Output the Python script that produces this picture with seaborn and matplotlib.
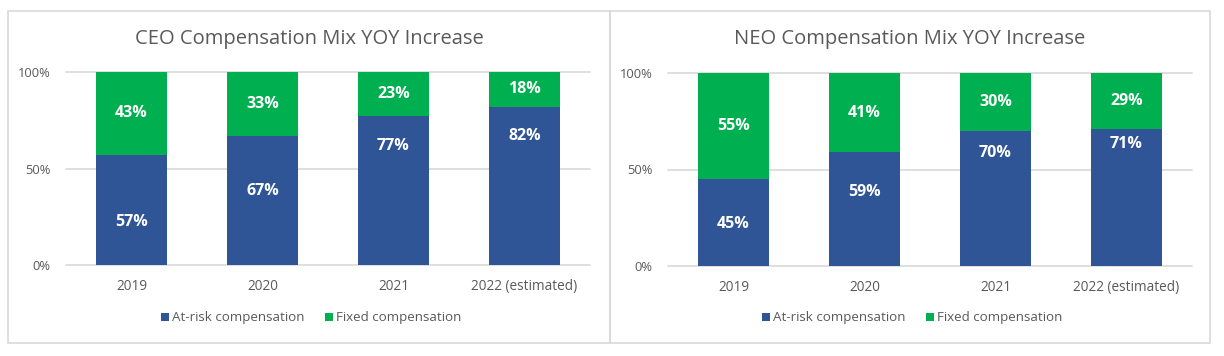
import matplotlib
matplotlib.use("Agg")
import matplotlib.pyplot as plt
from matplotlib.patches import Rectangle, Patch
import seaborn as sns
import pandas as pd

# ---- data ----
categories = ["2019", "2020", "2021", "2022 (estimated)"]
ceo_at_risk = [57, 67, 77, 82]
ceo_fixed = [43, 33, 23, 18]
neo_at_risk = [45, 59, 70, 71]
neo_fixed = [55, 41, 30, 29]
titles = ["CEO Compensation Mix YOY Increase", "NEO Compensation Mix YOY Increase"]
series_names = ["At-risk compensation", "Fixed compensation"]
y_ticks = [0, 50, 100]
y_tick_labels = ["0%", "50%", "100%"]

# label placement (as in the reference, at-risk labels are placed manually)
ceo_at_risk_label_y = [22.5, 38.4, 61.7, 66.9]
neo_at_risk_label_y = [21.8, 38.4, 58.3, 63.3]

# ---- style ----
BLUE = "#2F5597"
GREEN = "#00B050"
GRID = "#D9D9D9"
TEXT = "#595959"
FONT = ["Open Sans", "DejaVu Sans"]

sns.set_theme(style="white")
plt.rcParams["font.family"] = FONT

W, H = 1224, 356
fig = plt.figure(figsize=(W / 100, H / 100), dpi=100)
fig.patch.set_facecolor("white")

def fx(px):
    return px / W

def fy(py):
    return 1 - py / H

# panel borders
for x0, x1 in [(8, 610), (610, 1210)]:
    fig.patches.append(Rectangle((fx(x0), fy(343)), fx(x1 - x0), (343 - 11) / H,
                                 transform=fig.transFigure, fill=False,
                                 edgecolor=GRID, linewidth=1.2, zorder=0))

panels = [
    dict(left=66, top=72, bottom=265, at=ceo_at_risk, fx_=ceo_fixed, lab=ceo_at_risk_label_y,
         title=titles[0], cx=309),
    dict(left=668, top=73, bottom=266, at=neo_at_risk, fx_=neo_fixed, lab=neo_at_risk_label_y,
         title=titles[1], cx=910),
]

for p in panels:
    ax = fig.add_axes([fx(p["left"]), fy(p["bottom"]), fx(524), (p["bottom"] - p["top"]) / H])
    df = pd.DataFrame({"cat": categories, "at": p["at"], "fixed": p["fx_"]})
    df["total"] = df["at"] + df["fixed"]
    sns.barplot(data=df, x="cat", y="total", color=GREEN, saturation=1, width=0.535,
                ax=ax, zorder=3, linewidth=0, edgecolor="none")
    sns.barplot(data=df, x="cat", y="at", color=BLUE, saturation=1, width=0.535,
                ax=ax, zorder=3, linewidth=0, edgecolor="none")
    ax.set_xlim(-0.5, 3.5)
    ax.set_ylim(0, 100)
    ax.set_yticks(y_ticks)
    ax.set_yticklabels(y_tick_labels)
    ax.set_xlabel("")
    ax.set_ylabel("")
    for s in ax.spines.values():
        s.set_visible(False)
    for yv in y_ticks:
        ax.axhline(yv, color=GRID, linewidth=1.2, zorder=1, clip_on=False)
    ax.tick_params(axis="both", length=0, colors=TEXT)
    ax.tick_params(axis="y", pad=11, labelsize=9.3)
    ax.tick_params(axis="x", pad=10, labelsize=9.8)
    for lbl in ax.get_xticklabels() + ax.get_yticklabels():
        lbl.set_color(TEXT)
    # labels
    for i, (a, f) in enumerate(zip(df["at"], df["fixed"])):
        ax.text(i, a + f / 2, f"{f}%", ha="center", va="center", color="white",
                fontsize=11.5, fontweight="bold", zorder=5)
        ax.text(i, p["lab"][i], f"{a}%", ha="center", va="center", color="white",
                fontsize=11.5, fontweight="bold", zorder=5)
    fig.text(fx(p["cx"]), fy(39), p["title"], ha="center", va="center",
             fontsize=14.5, color=TEXT)
    handles = [Patch(facecolor=BLUE, edgecolor="none", label=series_names[0]),
               Patch(facecolor=GREEN, edgecolor="none", label=series_names[1])]
    leg = fig.legend(handles=handles, loc="center", ncol=2,
                     bbox_to_anchor=(fx(p["cx"] + 2), fy(318)), frameon=False,
                     fontsize=9.6, handlelength=0.6, handleheight=0.6,
                     handletextpad=0.25, columnspacing=1.5, borderpad=0)
    for t in leg.get_texts():
        t.set_color(TEXT)

fig.savefig("out.png", dpi=100, facecolor="white")
